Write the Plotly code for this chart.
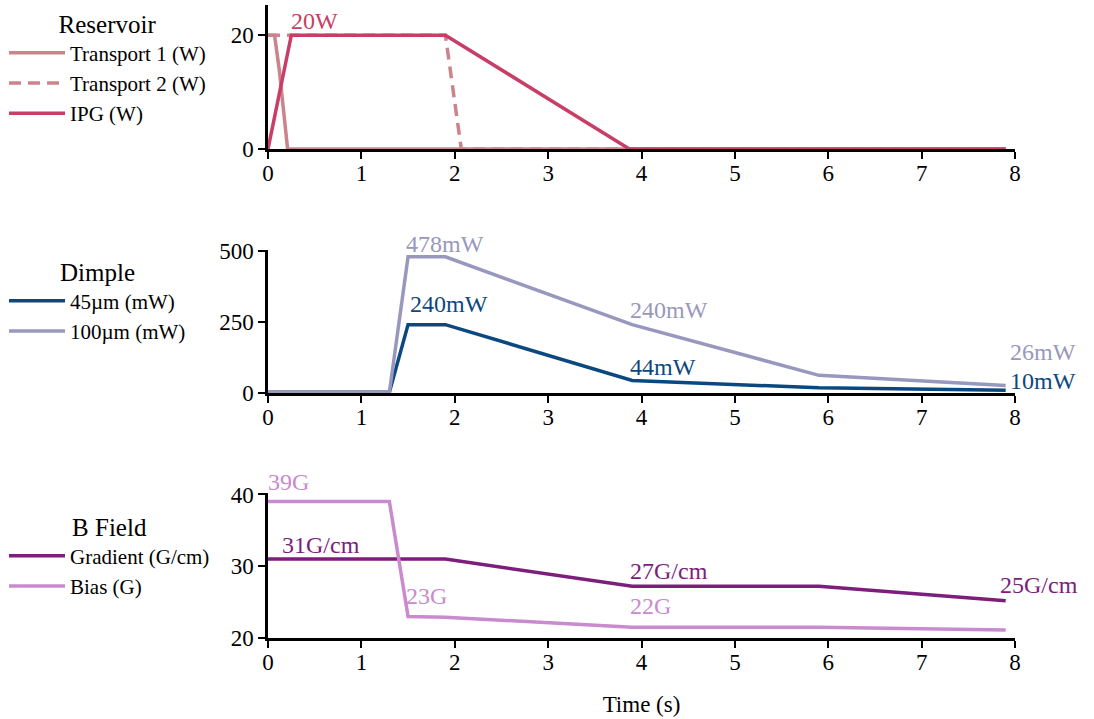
import plotly.graph_objects as go

# ---------------- data ----------------
x_ticks = [0, 1, 2, 3, 4, 5, 6, 7, 8]

# Reservoir (W)
t_tr1 = [0, 0.07, 0.12, 0.17, 0.21, 7.9]
tr1 = [20, 20, 14, 6, 0, 0]
t_tr2 = [0, 1.9, 2.07, 7.9]
tr2 = [20, 20, 0, 0]
t_ipg = [0, 0.25, 1.9, 3.87, 7.9]
ipg = [0, 20, 20, 0, 0]

# Dimple (mW)
t_dim = [0, 1.3, 1.5, 1.9, 3.9, 5.9, 7.9]
d45 = [3, 3, 240, 240, 44, 18, 10]
d100 = [3, 3, 478, 478, 240, 62, 26]

# B field
t_b = [0, 1.3, 1.5, 1.9, 3.9, 5.9, 7.9]
grad = [31, 31, 31, 31, 27.2, 27.2, 25.2]
bias = [39, 39, 23, 22.9, 21.5, 21.5, 21.1]

# value labels: (series, index of point, text)
res_labels = [("ipg", 1, "20W")]
dim_labels = [("d100", 2, "478mW"), ("d45", 2, "240mW"), ("d100", 4, "240mW"),
              ("d45", 4, "44mW"), ("d100", 6, "26mW"), ("d45", 6, "10mW")]
b_labels = [("bias", 0, "39G"), ("grad", 0, "31G/cm"), ("bias", 2, "23G"),
            ("grad", 4, "27G/cm"), ("bias", 4, "22G"), ("grad", 6, "25G/cm")]

# ---------------- style ----------------
FONT = "Liberation Serif"
C_TR = "rgb(204,132,140)"
C_IPG = "rgb(200,62,102)"
C_45 = "rgb(12,72,128)"
C_100 = "rgb(152,152,190)"
C_GR = "rgb(124,30,124)"
C_BI = "rgb(202,138,206)"
LW = 3.5

series = {
    "ipg": (t_ipg, ipg, C_IPG, "y"),
    "d45": (t_dim, d45, C_45, "y2"),
    "d100": (t_dim, d100, C_100, "y2"),
    "grad": (t_b, grad, C_GR, "y3"),
    "bias": (t_b, bias, C_BI, "y3"),
}
# label offsets (px): xshift, yshift
offsets = {
    ("ipg", 1): (-2, -1),
    ("d100", 2): (-4, -2),
    ("d45", 2): (0, 6),
    ("d100", 4): (-4, 0),
    ("d45", 4): (-4, -2),
    ("d100", 6): (2, 19),
    ("d45", 6): (2, -6),
    ("bias", 0): (-2, 5),
    ("grad", 0): (12, -1),
    ("bias", 2): (-4, 5),
    ("grad", 4): (-4, 0),
    ("bias", 4): (-4, 6),
    ("grad", 6): (-8, 1),
}

fig = go.Figure()

fig.add_trace(go.Scatter(x=t_tr1, y=tr1, mode="lines", name="Transport 1 (W)",
                         line=dict(color=C_TR, width=LW), legend="legend", xaxis="x", yaxis="y"))
fig.add_trace(go.Scatter(x=t_tr2, y=tr2, mode="lines", name="Transport 2 (W)",
                         line=dict(color=C_TR, width=LW, dash="12px,7px"), legend="legend", xaxis="x", yaxis="y"))
fig.add_trace(go.Scatter(x=t_ipg, y=ipg, mode="lines", name="IPG (W)",
                         line=dict(color=C_IPG, width=LW), legend="legend", xaxis="x", yaxis="y"))

fig.add_trace(go.Scatter(x=t_dim, y=d45, mode="lines", name="45µm (mW)",
                         line=dict(color=C_45, width=LW), legend="legend2", xaxis="x2", yaxis="y2"))
fig.add_trace(go.Scatter(x=t_dim, y=d100, mode="lines", name="100µm (mW)",
                         line=dict(color=C_100, width=LW), legend="legend2", xaxis="x2", yaxis="y2"))

fig.add_trace(go.Scatter(x=t_b, y=grad, mode="lines", name="Gradient (G/cm)",
                         line=dict(color=C_GR, width=LW), legend="legend3", xaxis="x3", yaxis="y3"))
fig.add_trace(go.Scatter(x=t_b, y=bias, mode="lines", name="Bias (G)",
                         line=dict(color=C_BI, width=LW), legend="legend3", xaxis="x3", yaxis="y3"))

annotations = []
for lab_list in (res_labels, dim_labels, b_labels):
    for key, idx, text in lab_list:
        xs, ys, col, yax = series[key]
        dx, dy = offsets[(key, idx)]
        annotations.append(dict(
            x=xs[idx], y=ys[idx], xref=yax.replace("y", "x"), yref=yax,
            text=text, showarrow=False, xanchor="left", yanchor="bottom",
            xshift=dx, yshift=dy, font=dict(family=FONT, size=24, color=col)))

axis_common = dict(showline=True, linecolor="black", linewidth=2.5, ticks="outside",
                   ticklen=7, tickwidth=2, tickcolor="black", showgrid=False, zeroline=False,
                   tickfont=dict(family=FONT, size=23, color="black"))

# plot area: x 268..1015 px, y 5..638 px within 1094x719
L, R, T, B = 268, 79, 5, 81
H = 719 - T - B


def dom(top_px, bot_px):
    return [(638 - bot_px) / H, (638 - top_px) / H]


xcommon = dict(axis_common, range=[0, 8], tickvals=x_ticks, ticktext=[str(v) for v in x_ticks],
               ticklabelstandoff=-5)

fig.update_layout(
    width=1094, height=719,
    margin=dict(l=L, r=R, t=T, b=B, autoexpand=False),
    plot_bgcolor="white", paper_bgcolor="white",
    font=dict(family=FONT, color="black"),
    showlegend=True,
    xaxis=dict(xcommon, anchor="y", domain=[0, 1]),
    yaxis=dict(axis_common, anchor="x", domain=dom(5, 149), range=[0, 25.3], tickvals=[0, 20]),
    xaxis2=dict(xcommon, anchor="y2", domain=[0, 1]),
    yaxis2=dict(axis_common, anchor="x2", domain=dom(250, 393), range=[0, 502], tickvals=[0, 250, 500]),
    xaxis3=dict(xcommon, anchor="y3", domain=[0, 1],
                title=dict(text="Time (s)", font=dict(family=FONT, size=23), standoff=22)),
    yaxis3=dict(axis_common, anchor="x3", domain=dom(493, 638), range=[20, 40.2], tickvals=[20, 30, 40]),
    annotations=annotations,
)

leg_common = dict(xref="container", yref="container", x=4 / 1094, xanchor="left", yanchor="top",
                  bgcolor="rgba(0,0,0,0)", font=dict(family=FONT, size=21, color="black"),
                  itemwidth=56, tracegroupgap=0)
fig.update_layout(
    legend=dict(leg_common, y=1 - 0 / 719,
                title=dict(text="Reservoir", side="top center", font=dict(family=FONT, size=25))),
    legend2=dict(leg_common, y=1 - 248 / 719,
                 title=dict(text="Dimple", side="top center", font=dict(family=FONT, size=25))),
    legend3=dict(leg_common, y=1 - 503 / 719,
                 title=dict(text="B Field", side="top center", font=dict(family=FONT, size=25))),
)

fig.write_html("out.html", config={"displayModeBar": False},
               post_script="document.body.style.margin='0';")
